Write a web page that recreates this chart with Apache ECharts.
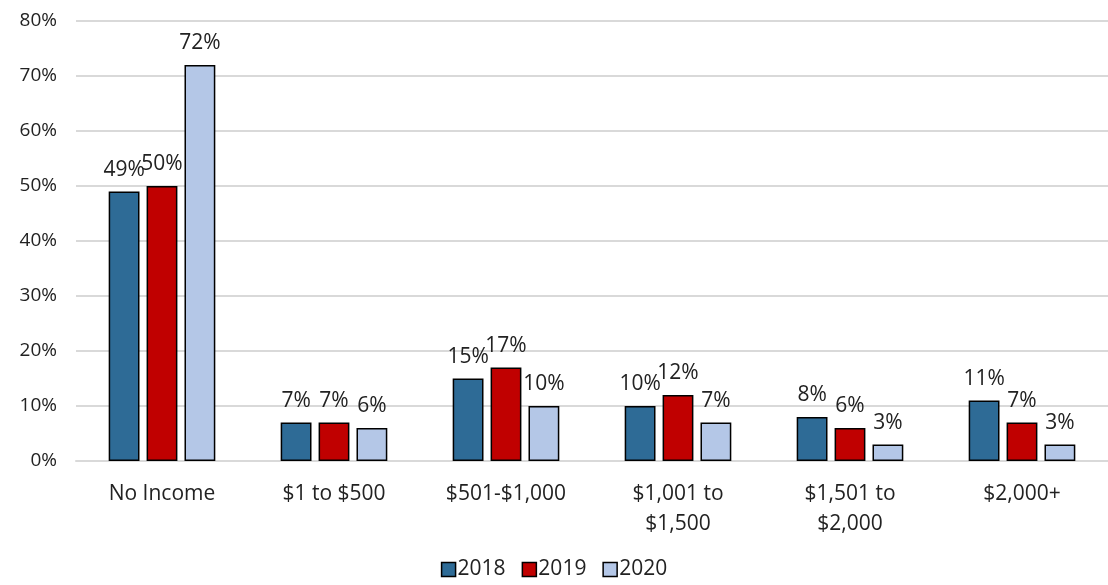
<!DOCTYPE html>
<html>
<head>
<meta charset="utf-8">
<script src="https://cdn.jsdelivr.net/npm/echarts@6/dist/echarts.min.js"></script>
<style>
  html, body { margin: 0; padding: 0; background: #fff; }
  #chart { width: 1108px; height: 585px; }
</style>
</head>
<body>
<div id="chart"></div>
<script>
// 收入区间
const categories = ['No Income', '$1 to $500', '$501-$1,000', '$1,001 to\n$1,500', '$1,501 to\n$2,000', '$2,000+']
const years = ['2018', '2019', '2020']
const values2018 = [49, 7, 15, 10, 8, 11]
const values2019 = [50, 7, 17, 12, 6, 7]
const values2020 = [72, 6, 10, 7, 3, 3]
const colors = ['#2E6B96', '#C00000', '#B4C7E7']

const font = '"Open Sans", Lato, sans-serif'

function makeSeries(name, data, color) {
  return {
    name: name,
    type: 'bar',
    data: data,
    barGap: '23%',
    barCategoryGap: '38%',
    itemStyle: {
      color: color,
      borderColor: '#000',
      borderWidth: 1.5
    },
    label: {
      show: true,
      position: 'top',
      distance: 11,
      formatter: '{c}%',
      color: '#222',
      fontSize: 21,
      fontFamily: font
    },
    labelLayout: { hideOverlap: false }
  }
}

const myChart = echarts.init(document.getElementById('chart'))
myChart.setOption({
  animation: false,
  grid: {
    left: 76,
    right: 0,
    top: 21,
    bottom: 124
  },
  legend: {
    bottom: 0,
    left: 'center',
    itemWidth: 14,
    itemHeight: 14,
    itemGap: 16,
    icon: 'rect',
    data: years,
    itemStyle: { borderColor: '#000', borderWidth: 1.5 },
    textStyle: { fontSize: 21, color: '#222', fontFamily: font, padding: [0, 0, 0, -3] }
  },
  xAxis: {
    type: 'category',
    data: categories,
    axisLine: { show: true, lineStyle: { color: '#D9D9D9', width: 2 } },
    axisTick: { show: false },
    axisLabel: {
      fontSize: 21,
      color: '#222',
      fontFamily: font,
      margin: 18,
      lineHeight: 30,
      interval: 0
    }
  },
  yAxis: {
    type: 'value',
    min: 0,
    max: 80,
    interval: 10,
    axisLine: { show: false },
    axisTick: { show: false },
    splitLine: { lineStyle: { color: '#D9D9D9', width: 2 } },
    axisLabel: {
      formatter: '{value}%',
      fontSize: 19,
      color: '#222',
      fontFamily: font,
      margin: 19
    }
  },
  series: [
    makeSeries(years[0], values2018, colors[0]),
    makeSeries(years[1], values2019, colors[1]),
    makeSeries(years[2], values2020, colors[2])
  ]
})
window.addEventListener('resize', function() {
  myChart.resize()
})
</script>
</body>
</html>
